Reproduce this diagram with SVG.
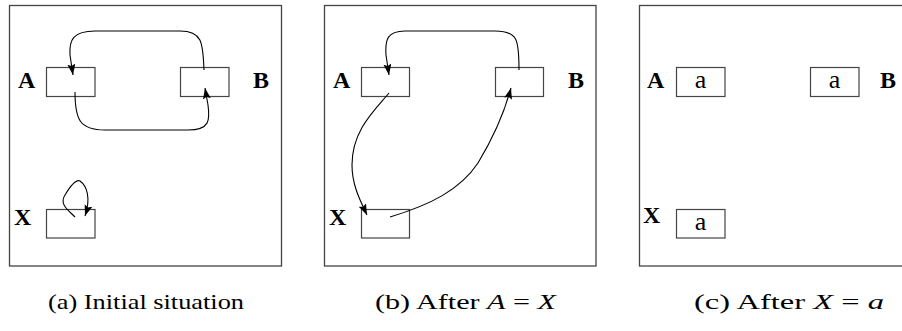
<svg xmlns="http://www.w3.org/2000/svg" width="902" height="331" viewBox="0 0 902 331">
<style>
.frame{fill:none;stroke:#444;stroke-width:1.3}
.box{fill:#fff;stroke:#444;stroke-width:1.2}
.lbl{font-family:"Liberation Serif",serif;font-weight:bold;font-size:24px;fill:#000}
.val{font-family:"Liberation Serif",serif;font-size:26px;fill:#000;text-anchor:middle}
.cap{font-family:"Liberation Serif",serif;font-size:22px;fill:#000}
.cap .m{font-style:italic}
.conn path{fill:none;stroke:#000;stroke-width:1.1;marker-end:url(#ah)}
</style>
<defs>
<marker id="ah" markerUnits="userSpaceOnUse" markerWidth="13" markerHeight="9" refX="11" refY="4" orient="auto">
<path d="M0,0 L11,4 L0,8 L2,4 z" fill="#000"/>
</marker>
</defs>
<rect width="902" height="331" fill="#fff"/>
<g id="panel-a">
<rect class="frame" x="9.5" y="5.5" width="272" height="260.5"/>
<g id="a-A"><rect class="box" x="46.5" y="67.5" width="48.5" height="29"/><text class="lbl" x="18" y="88">A</text></g>
<g id="a-B"><rect class="box" x="180.5" y="67.5" width="48.5" height="29"/><text class="lbl" x="253" y="88">B</text></g>
<g id="a-X"><rect class="box" x="46.5" y="209.5" width="48.5" height="28.5"/><text class="lbl" x="14" y="225">X</text></g>
<g class="conn">
<path d="M204,70 C203,42 202,31 180,31 L95,31 C73,31 69,40 70,55 L73,75"/>
<path d="M75,92 C75,120 80,130 105,130 L188,130 C210,130 210,120 208,105 L205,88"/>
<path d="M75,217 C68,210 59,204 65,195 C71,185 76,179 80,181 C87,186 91,198 85,216"/>
</g>
</g>
<g id="panel-b">
<rect class="frame" x="324.5" y="5.5" width="271.5" height="260.5"/>
<g id="b-A"><rect class="box" x="361.5" y="67.5" width="48" height="29"/><text class="lbl" x="333" y="88">A</text></g>
<g id="b-B"><rect class="box" x="495.5" y="67.5" width="48" height="29"/><text class="lbl" x="568" y="88">B</text></g>
<g id="b-X"><rect class="box" x="361.5" y="209.5" width="48" height="28.5"/><text class="lbl" x="329" y="225">X</text></g>
<g class="conn">
<path d="M519,70 C519,40 518,31 495,31 L405,31 C387,31 385,40 386,55 L389,75"/>
<path d="M389,93 C375,110 352,130 352,165 C352,185 360,200 367,215"/>
<path d="M390,217 C430,205 460,190 478,163 C495,135 505,110 511,88"/>
</g>
</g>
<g id="panel-c">
<rect class="frame" x="639.5" y="5.5" width="280" height="260.5"/>
<g id="c-A"><rect class="box" x="676.5" y="67.5" width="48.5" height="29"/><text class="lbl" x="647" y="88">A</text><text class="val" x="700.5" y="88">a</text></g>
<g id="c-B"><rect class="box" x="810.5" y="67.5" width="48.5" height="29"/><text class="lbl" x="880" y="88">B</text><text class="val" x="834.5" y="88">a</text></g>
<g id="c-X"><rect class="box" x="676.5" y="209.5" width="48.5" height="28.5"/><text class="lbl" x="643" y="223">X</text><text class="val" x="700.5" y="230">a</text></g>
</g>
<text class="cap" x="48" y="309" textLength="196" lengthAdjust="spacingAndGlyphs">(a) Initial situation</text>
<text class="cap" x="375" y="309" textLength="181" lengthAdjust="spacingAndGlyphs">(b) After <tspan class="m">A</tspan> = <tspan class="m">X</tspan></text>
<text class="cap" x="694" y="309" textLength="190" lengthAdjust="spacingAndGlyphs">(c) After <tspan class="m">X</tspan> = <tspan class="m">a</tspan></text>
</svg>
